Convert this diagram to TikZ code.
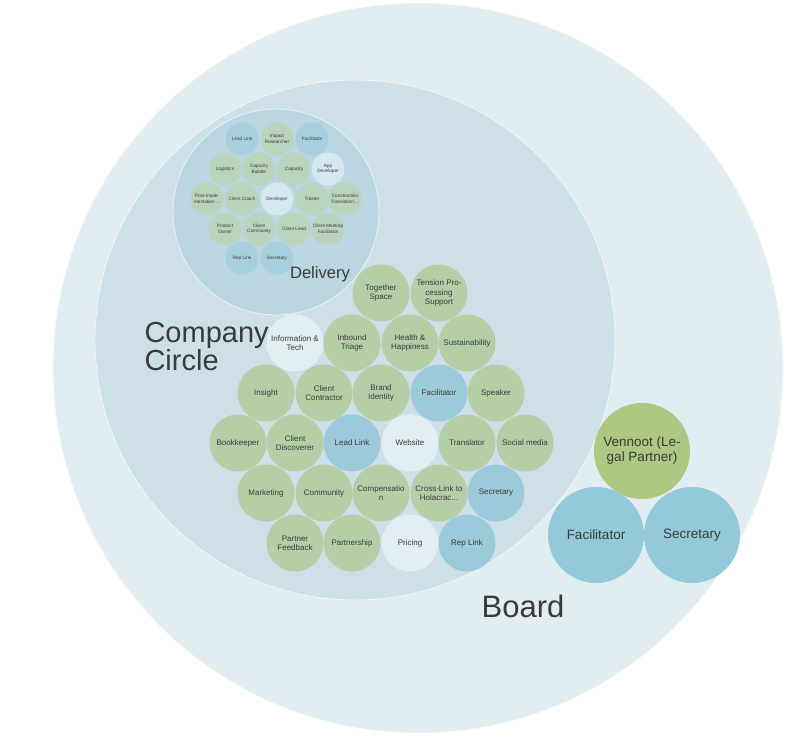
\documentclass[tikz,border=0pt]{standalone}
\usepackage{fontspec}
\setmainfont{Liberation Sans}
\usepackage{xcolor}
\usepackage{tikz}
\usetikzlibrary{positioning}

\definecolor{boardbg}{HTML}{E2EDF2}
\definecolor{companybg}{HTML}{CDE0E8}
\definecolor{deliverybg}{HTML}{B9D6E1}
\definecolor{rolegreen}{HTML}{B4CFA6}
\definecolor{roleblue}{HTML}{9CCADA}
\definecolor{rolewhite}{HTML}{E3EEF3}
\definecolor{subgreen}{HTML}{BAD3BC}
\definecolor{subblue}{HTML}{A8CFDD}
\definecolor{subwhite}{HTML}{D5E8EF}
\definecolor{boardgreen}{HTML}{AEC883}
\definecolor{boardblue}{HTML}{93C9D8}
\definecolor{labeltext}{HTML}{3A3A3A}

\begin{document}
\begin{tikzpicture}[
    x=1pt, y=-1pt,
    ring/.style={circle, inner sep=0pt, draw=white!70!#1, line width=0.8pt, fill=#1},
    role/.style={circle, minimum size=57pt, inner sep=0pt, align=center, font=\fontsize{8}{9.2}\selectfont, text=labeltext},
    roleg/.style={role, fill=rolegreen},
    roleb/.style={role, fill=roleblue},
    rolew/.style={role, fill=rolewhite},
    sub/.style={circle, minimum size=33pt, inner sep=0pt, align=center, font=\fontsize{4.7}{5.4}\selectfont, text=labeltext},
    subg/.style={sub, fill=subgreen},
    subb/.style={sub, fill=subblue},
    subw/.style={sub, fill=subwhite},
    big/.style={circle, minimum size=96pt, inner sep=0pt, align=center, font=\fontsize{13.5}{15}\selectfont, text=labeltext}
]
    \useasboundingbox (0,0) rectangle (800,741);
    \fill[white] (0,0) rectangle (800,741);

    % circles
    \node [ring=boardbg, minimum size=730pt] (board) at (418,368) {};
    \node [ring=companybg, minimum size=520pt] (company) at (355,340) {};
    \node [ring=deliverybg, minimum size=206pt] (delivery) at (276,212) {};

    % Delivery roles
    \node [subb] (dlead) at (242,139) {Lead Link};
    \node [subg] (dimpact) at (277,139) {Impact\\Researcher};
    \node [subb] (dfacil) at (312,139) {Facilitator};
    \node [subg] (dlogist) at (225,169) {Logistics};
    \node [subg] (dcapbuild) at (259,169) {Capacity\\Builder};
    \node [subg] (dcapacity) at (294,169) {Capacity};
    \node [subw] (dappdev) at (328,169) {App\\Developer};
    \node [subg] (dpostimpl) at (207,199) {Post-Imple-\\mentation ...};
    \node [subg] (dcoach) at (242,199) {Client Coach};
    \node [subw] (ddev) at (277,199) {Developer};
    \node [subg] (dtrainer) at (312,199) {Trainer};
    \node [subg] (dconstr) at (345,199) {Construction\\Translation ...};
    \node [subg] (downer) at (225,229) {Product\\Owner};
    \node [subg] (dcommunity) at (259,229) {Client\\Community};
    \node [subg] (dclientlead) at (294,229) {Client Lead};
    \node [subg] (dmeeting) at (328,229) {Client Meeting\\Facilitator};
    \node [subb] (drep) at (242,258) {Rep Link};
    \node [subb] (dsecr) at (277,258) {Secretary};
    \node [font=\fontsize{16.6}{18}\selectfont, text=labeltext] (deliverylabel) at (320,274) {Delivery};

    % Company Circle roles
    \node [roleg] (together) at (381,293) {Together\\Space};
    \node [roleg] (tension) at (439,293) {Tension Pro-\\cessing\\Support};
    \node [rolew] (infotech) at (295,343) {Information \&\\Tech};
    \node [roleg] (inbound) at (352,343) {Inbound\\Triage};
    \node [roleg] (health) at (410,343) {Health \&\\Happiness};
    \node [roleg] (sustain) at (467,343) {Sustainability};
    \node [roleg] (insight) at (266,393) {Insight};
    \node [roleg] (contractor) at (324,393) {Client\\Contractor};
    \node [roleg] (brand) at (381,393) {Brand\\Identity};
    \node [roleb] (facil) at (439,393) {Facilitator};
    \node [roleg] (speaker) at (496,393) {Speaker};
    \node [roleg] (bookkeeper) at (238,443) {Bookkeeper};
    \node [roleg] (discoverer) at (295,443) {Client\\Discoverer};
    \node [roleb] (lead) at (352,443) {Lead Link};
    \node [rolew] (website) at (410,443) {Website};
    \node [roleg] (translator) at (467,443) {Translator};
    \node [roleg] (social) at (525,443) {Social media};
    \node [roleg] (marketing) at (266,493) {Marketing};
    \node [roleg] (community) at (324,493) {Community};
    \node [roleg] (compens) at (381,493) {Compensatio\\n};
    \node [roleg] (crosslink) at (439,493) {Cross-Link to\\Holacrac...};
    \node [roleb] (secr) at (496,493) {Secretary};
    \node [roleg] (feedback) at (295,543) {Partner\\Feedback};
    \node [roleg] (partnership) at (352,543) {Partnership};
    \node [rolew] (pricing) at (410,543) {Pricing};
    \node [roleb] (rep) at (467,543) {Rep Link};
    \node [font=\fontsize{29}{28}\selectfont, text=labeltext, align=left, anchor=west] (companylabel) at (141,347) {Company\\Circle};

    % Board roles
    \node [big, fill=boardgreen] (vennoot) at (642,451) {Vennoot (Le-\\gal Partner)};
    \node [big, fill=boardblue] (bfacil) at (596,535) {Facilitator};
    \node [big, fill=boardblue] (bsecr) at (692,535) {Secretary};
    \node [font=\fontsize{31}{34}\selectfont, text=labeltext] (boardlabel) at (523,606) {Board};
\end{tikzpicture}
\end{document}
